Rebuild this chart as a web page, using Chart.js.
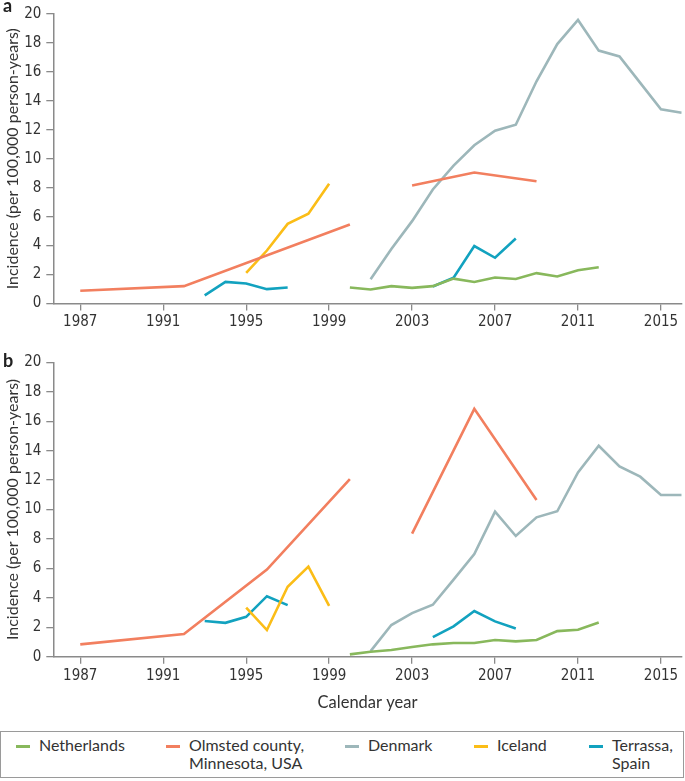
<!DOCTYPE html>
<html>
<head>
<meta charset="utf-8">
<script src="https://cdn.jsdelivr.net/npm/chart.js@4.4.0/dist/chart.umd.min.js"></script>
<style>
  html, body { margin: 0; padding: 0; background: #fff; }
  body { width: 685px; height: 781px; position: relative; overflow: hidden; font-family: Lato, "Open Sans", sans-serif; color: #333; }
  canvas { position: absolute; left: 0; }
  #chartA { top: 0; }
  #chartB { top: 340px; }
  .panel { position: absolute; left: 3px; font-weight: bold; font-size: 18px; font-family: Lato, sans-serif; color: #222; }
  #legend { position: absolute; left: 0; top: 731px; width: 682px; height: 45px; border: 1.5px solid #9a9a9a; }
  .item { position: absolute; top: 4px; font-size: 16px; line-height: 18px; }
  .swatch { position: absolute; width: 14px; height: 2.5px; }
</style>
</head>
<body>
<canvas id="chartA" width="685" height="330"></canvas>
<canvas id="chartB" width="685" height="380"></canvas>
<div class="panel" style="top:-6px">a</div>
<div class="panel" style="top:349px">b</div>
<div id="legend"></div>
<script>
// axis ticks
const tickYears = [1987, 1991, 1995, 1999, 2003, 2007, 2011, 2015];

// series names and colours (legend order)
const seriesNames = ['Netherlands', 'Olmsted county,\nMinnesota, USA', 'Denmark', 'Iceland', 'Terrassa,\nSpain'];
const seriesColors = ['#88b85c', '#f27f5f', '#9db7ba', '#fbbd17', '#12a2bf'];

// panel a: incidence (null = break in the line)
const nlYearsA = [2000, 2001, 2002, 2003, 2004, 2005, 2006, 2007, 2008, 2009, 2010, 2011, 2012];
const nlValuesA = [1.1, 0.97, 1.2, 1.08, 1.2, 1.72, 1.49, 1.8, 1.69, 2.1, 1.87, 2.3, 2.5];
const olmYearsA = [1987, 1992, 2000, 2001, 2003, 2006, 2009];
const olmValuesA = [0.88, 1.2, 5.46, null, 8.15, 9.05, 8.44];
const dkYearsA = [2001, 2002, 2003, 2004, 2005, 2006, 2007, 2008, 2009, 2010, 2011, 2012, 2013, 2014, 2015, 2016];
const dkValuesA = [1.67, 3.77, 5.69, 7.88, 9.53, 10.93, 11.94, 12.35, 15.35, 17.92, 19.59, 17.47, 17.07, 15.24, 13.41, 13.18];
const isYearsA = [1995, 1996, 1997, 1998, 1999];
const isValuesA = [2.12, 3.66, 5.5, 6.2, 8.28];
const terYearsA = [1993, 1994, 1995, 1996, 1997, 1998, 2004, 2005, 2006, 2007, 2008];
const terValuesA = [0.56, 1.49, 1.38, 0.99, 1.1, null, 1.17, 1.78, 3.97, 3.16, 4.49];

// panel b
const nlYearsB = [2000, 2001, 2002, 2003, 2004, 2005, 2006, 2007, 2008, 2009, 2010, 2011, 2012];
const nlValuesB = [0.16, 0.34, 0.45, 0.66, 0.84, 0.93, 0.93, 1.13, 1.04, 1.13, 1.74, 1.83, 2.33];
const olmYearsB = [1987, 1992, 1996, 2000, 2001, 2003, 2006, 2009];
const olmValuesB = [0.84, 1.54, 5.92, 12.07, null, 8.36, 16.84, 10.64];
const dkYearsB = [2001, 2002, 2003, 2004, 2005, 2006, 2007, 2008, 2009, 2010, 2011, 2012, 2013, 2014, 2015, 2016];
const dkValuesB = [0.38, 2.15, 2.96, 3.53, 5.24, 6.98, 9.85, 8.2, 9.47, 9.88, 12.52, 14.33, 12.93, 12.23, 10.98, 10.98];
const isYearsB = [1995, 1996, 1997, 1998, 1999];
const isValuesB = [3.34, 1.81, 4.75, 6.12, 3.46];
const terYearsB = [1993, 1994, 1995, 1996, 1997, 1998, 2004, 2005, 2006, 2007, 2008];
const terValuesB = [2.42, 2.3, 2.71, 4.11, 3.5, null, 1.33, 2.06, 3.1, 2.4, 1.92];

const axisGray = '#8a8a8a';
const tickFont = { family: '"Liberation Sans Narrow", "DejaVu Sans Condensed", sans-serif', size: 15 };

function toPoints(xs, ys) {
  return xs.map((x, i) => ({ x: x, y: ys[i] }));
}

function makeDatasets(series) {
  return series.map((s, i) => ({
    label: seriesNames[i],
    data: toPoints(s[0], s[1]),
    borderColor: seriesColors[i],
    borderWidth: 2.6,
    pointRadius: 0,
    fill: false,
    spanGaps: false,
    tension: 0,
  }));
}

function makeChart(id, series, opts) {
  const ctx = document.getElementById(id).getContext('2d');
  return new Chart(ctx, {
    type: 'line',
    data: { datasets: makeDatasets(series) },
    options: {
      responsive: false,
      animation: false,
      layout: { padding: { top: opts.padTop, right: 3.3, left: 0, bottom: 0 } },
      plugins: { legend: { display: false }, tooltip: { enabled: false } },
      scales: {
        x: {
          type: 'linear',
          min: 1985.7,
          max: 2016,
          afterBuildTicks: (scale) => { scale.ticks = tickYears.map((v) => ({ value: v })); },
          afterFit: (scale) => { scale.height = opts.xHeight; },
          grid: { drawOnChartArea: false, drawTicks: true, tickLength: 7, color: axisGray, lineWidth: 1.3 },
          border: { color: axisGray, width: 1.5 },
          ticks: { color: '#333', font: tickFont, padding: 3, maxRotation: 0, callback: (v) => String(v) },
          title: opts.xTitle
            ? { display: true, text: opts.xTitle, color: '#333', font: { family: 'Lato, sans-serif', size: 16.5 }, padding: { bottom: 7 } }
            : { display: false },
        },
        y: {
          min: 0,
          max: 20,
          afterFit: (scale) => { scale.width = 53.3; },
          grid: { drawOnChartArea: false, drawTicks: true, tickLength: 7, color: axisGray, lineWidth: 1.3 },
          border: { color: axisGray, width: 1.5 },
          ticks: { stepSize: 2, color: '#333', font: tickFont, padding: 5 },
          title: { display: true, text: 'Incidence (per 100,000 person-years)', color: '#333', font: { family: 'Lato, sans-serif', size: 16 }, padding: { top: 3.4 } },
        },
      },
    },
  });
}

makeChart('chartA', [
  [nlYearsA, nlValuesA], [olmYearsA, olmValuesA], [dkYearsA, dkValuesA], [isYearsA, isValuesA], [terYearsA, terValuesA],
], { padTop: 9.3, xHeight: 26.5 });

makeChart('chartB', [
  [nlYearsB, nlValuesB], [olmYearsB, olmValuesB], [dkYearsB, dkValuesB], [isYearsB, isValuesB], [terYearsB, terValuesB],
], { padTop: 22.3, xHeight: 63.3, xTitle: 'Calendar year' });

// HTML legend built from the series names
const legendLeft = [15, 165, 344, 473, 588];
const legend = document.getElementById('legend');
seriesNames.forEach((name, i) => {
  const item = document.createElement('div');
  item.className = 'item';
  item.style.left = legendLeft[i] + 'px';
  const sw = document.createElement('div');
  sw.className = 'swatch';
  sw.style.background = seriesColors[i];
  sw.style.left = '0px';
  sw.style.top = '9px';
  item.appendChild(sw);
  const txt = document.createElement('div');
  txt.style.marginLeft = '23px';
  txt.innerHTML = name.replace('\n', '<br>');
  item.appendChild(txt);
  legend.appendChild(item);
});
</script>
</body>
</html>
